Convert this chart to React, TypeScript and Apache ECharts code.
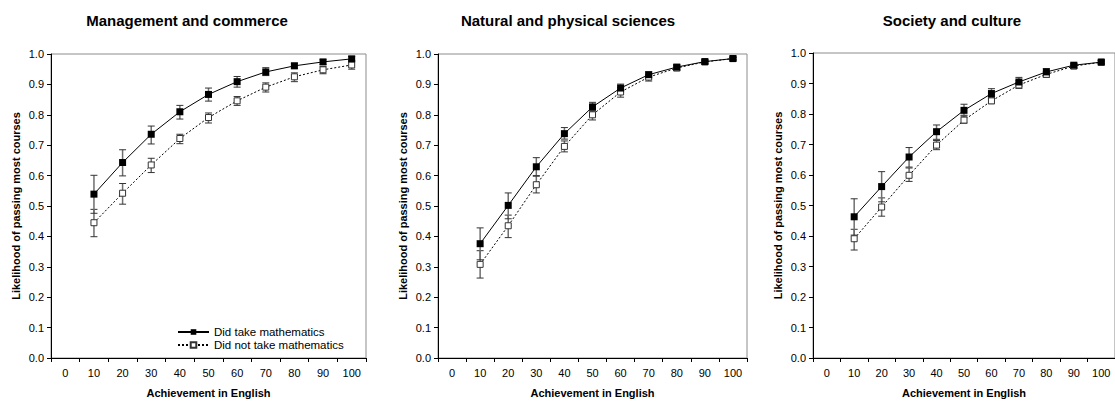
import React, { useEffect, useRef } from "react";
import * as echarts from "echarts";

const categories = ["0", "10", "20", "30", "40", "50", "60", "70", "80", "90", "100"];
const panelTitles = ["Management and commerce", "Natural and physical sciences", "Society and culture"];
const seriesNames = ["Did take mathematics", "Did not take mathematics"];

// Management and commerce
const mcTake = [0.539, 0.643, 0.736, 0.81, 0.867, 0.909, 0.941, 0.961, 0.974, 0.984];
const mcTakeLow = [0.476, 0.599, 0.704, 0.786, 0.845, 0.891, 0.929, 0.953, 0.966, 0.977];
const mcTakeHigh = [0.601, 0.685, 0.763, 0.831, 0.888, 0.926, 0.955, 0.97, 0.981, 0.992];
const mcNot = [0.445, 0.542, 0.635, 0.722, 0.791, 0.846, 0.891, 0.925, 0.948, 0.964];
const mcNotLow = [0.399, 0.506, 0.61, 0.705, 0.773, 0.831, 0.875, 0.909, 0.935, 0.95];
const mcNotHigh = [0.489, 0.574, 0.657, 0.736, 0.806, 0.86, 0.905, 0.938, 0.959, 0.977];

// Natural and physical sciences
const npTake = [0.376, 0.502, 0.629, 0.738, 0.826, 0.888, 0.932, 0.957, 0.975, 0.985];
const npTakeLow = [0.323, 0.458, 0.6, 0.72, 0.812, 0.874, 0.921, 0.948, 0.97, 0.98];
const npTakeHigh = [0.428, 0.543, 0.659, 0.758, 0.841, 0.901, 0.941, 0.965, 0.98, 0.989];
const npNot = [0.308, 0.435, 0.57, 0.696, 0.8, 0.875, 0.924, 0.954, 0.974, 0.985];
const npNotLow = [0.263, 0.396, 0.543, 0.678, 0.783, 0.858, 0.911, 0.945, 0.968, 0.981];
const npNotHigh = [0.353, 0.47, 0.598, 0.714, 0.815, 0.89, 0.934, 0.963, 0.979, 0.989];

// Society and culture
const scTake = [0.463, 0.562, 0.659, 0.742, 0.812, 0.867, 0.905, 0.938, 0.96, 0.97];
const scTakeLow = [0.403, 0.512, 0.626, 0.717, 0.793, 0.851, 0.891, 0.927, 0.952, 0.965];
const scTakeHigh = [0.522, 0.611, 0.69, 0.764, 0.832, 0.883, 0.92, 0.949, 0.967, 0.975];
const scNot = [0.391, 0.495, 0.599, 0.698, 0.78, 0.843, 0.895, 0.93, 0.957, 0.97];
const scNotLow = [0.354, 0.465, 0.579, 0.683, 0.77, 0.834, 0.884, 0.92, 0.949, 0.965];
const scNotHigh = [0.422, 0.525, 0.623, 0.713, 0.796, 0.854, 0.909, 0.94, 0.964, 0.975];

const FONT = '"Liberation Sans", Arial, sans-serif';

const panels = [
  { take: mcTake, takeLo: mcTakeLow, takeHi: mcTakeHigh, not: mcNot, notLo: mcNotLow, notHi: mcNotHigh },
  { take: npTake, takeLo: npTakeLow, takeHi: npTakeHigh, not: npNot, notLo: npNotLow, notHi: npNotHigh },
  { take: scTake, takeLo: scTakeLow, takeHi: scTakeHigh, not: scNot, notLo: scNotLow, notHi: scNotHigh },
];

const gridLayout = [
  { left: 51, top: 54, width: 315, height: 309, titleX: 187 },
  { left: 438, top: 54, width: 309, height: 307, titleX: 568 },
  { left: 813, top: 53, width: 310, height: 306, titleX: 952 },
];

function errorRender(params: any, api: any) {
  const x = api.value(0);
  const lo = api.coord([x, api.value(1)]);
  const hi = api.coord([x, api.value(2)]);
  const cw = 3.5;
  return {
    type: "group",
    children: [
      { type: "line", shape: { x1: lo[0], y1: lo[1], x2: hi[0], y2: hi[1] }, style: { stroke: "#6e6e6e", lineWidth: 1.5 } },
      { type: "line", shape: { x1: lo[0] - cw, y1: lo[1], x2: lo[0] + cw, y2: lo[1] }, style: { stroke: "#333", lineWidth: 1 } },
      { type: "line", shape: { x1: hi[0] - cw, y1: hi[1], x2: hi[0] + cw, y2: hi[1] }, style: { stroke: "#333", lineWidth: 1 } },
    ],
  };
}

function toLine(vals: number[]) {
  return ["-", ...vals];
}
function toErr(lo: number[], hi: number[]) {
  return lo.map((l, i) => [i + 1, l, hi[i]]);
}

export default function App() {
  const ref = useRef<HTMLDivElement>(null);
  useEffect(() => {
    if (!ref.current) return;
    const chart = echarts.init(ref.current, null, { renderer: "svg" });
    const grid: any[] = [];
    const xAxis: any[] = [];
    const yAxis: any[] = [];
    const series: any[] = [];
    const graphic: any[] = [];
    panels.forEach((p, i) => {
      const g = gridLayout[i];
      grid.push({ left: g.left, top: g.top, width: g.width, height: g.height, show: true, borderColor: "#8c8c8c", borderWidth: 1, backgroundColor: "transparent" });
      xAxis.push({
        type: "category",
        gridIndex: i,
        data: categories,
        boundaryGap: true,
        name: "Achievement in English",
        nameLocation: "middle",
        nameGap: 29,
        nameTextStyle: { fontFamily: FONT, fontSize: 11, fontWeight: "bold", color: "#000" },
        axisLine: { show: true, lineStyle: { color: "#000", width: 1 } },
        axisTick: { show: true, interval: 0, length: 4, lineStyle: { color: "#000" } },
        axisLabel: { interval: 0, fontFamily: FONT, fontSize: 11, color: "#000", margin: 9 },
        splitLine: { show: false },
      });
      yAxis.push({
        type: "value",
        gridIndex: i,
        min: 0,
        max: 1,
        interval: 0.1,
        name: "Likelihood of passing most courses",
        nameLocation: "middle",
        nameGap: 30,
        nameTextStyle: { fontFamily: FONT, fontSize: 11, fontWeight: "bold", color: "#000" },
        axisLine: { show: true, lineStyle: { color: "#000", width: 1 } },
        axisTick: { show: true, length: 4, lineStyle: { color: "#000" } },
        axisLabel: { fontFamily: FONT, fontSize: 11, color: "#000", margin: 7, formatter: (v: number) => v.toFixed(1) },
        splitLine: { show: false },
      });
      series.push({
        type: "custom",
        xAxisIndex: i,
        yAxisIndex: i,
        renderItem: errorRender,
        encode: { x: 0, y: [1, 2] },
        data: toErr(p.notLo, p.notHi),
        z: 1,
        silent: true,
      });
      series.push({
        type: "custom",
        xAxisIndex: i,
        yAxisIndex: i,
        renderItem: errorRender,
        encode: { x: 0, y: [1, 2] },
        data: toErr(p.takeLo, p.takeHi),
        z: 1,
        silent: true,
      });
      series.push({
        name: seriesNames[1],
        type: "line",
        xAxisIndex: i,
        yAxisIndex: i,
        data: toLine(p.not),
        symbol: "rect",
        symbolSize: 6,
        lineStyle: { color: "#000", width: 1, type: [2, 2] },
        itemStyle: { color: "#fff", borderColor: "#333", borderWidth: 1 },
        z: 3,
      });
      series.push({
        name: seriesNames[0],
        type: "line",
        xAxisIndex: i,
        yAxisIndex: i,
        data: toLine(p.take),
        symbol: "rect",
        symbolSize: 7,
        lineStyle: { color: "#000", width: 1, type: "solid" },
        itemStyle: { color: "#000" },
        z: 4,
      });
      graphic.push({
        type: "text",
        x: g.titleX,
        y: 20,
        style: { text: panelTitles[i], fontFamily: FONT, fontSize: 15, fontWeight: "bold", fill: "#000", align: "center", verticalAlign: "middle" },
      });
    });
    chart.setOption({
      animation: false,
      backgroundColor: "#fff",
      grid,
      xAxis,
      yAxis,
      series,
      graphic,
      legend: {
        data: seriesNames,
        orient: "vertical",
        left: 177,
        top: 326,
        padding: 0,
        itemWidth: 31,
        itemHeight: 7,
        itemGap: 1,
        textStyle: { fontFamily: FONT, fontSize: 11.5, color: "#000" },
        selectedMode: false,
      },
    });
    return () => chart.dispose();
  }, []);
  return <div ref={ref} style={{ position: "fixed", left: 0, top: 0, width: 1115, height: 403, background: "#fff" }} />;
}
